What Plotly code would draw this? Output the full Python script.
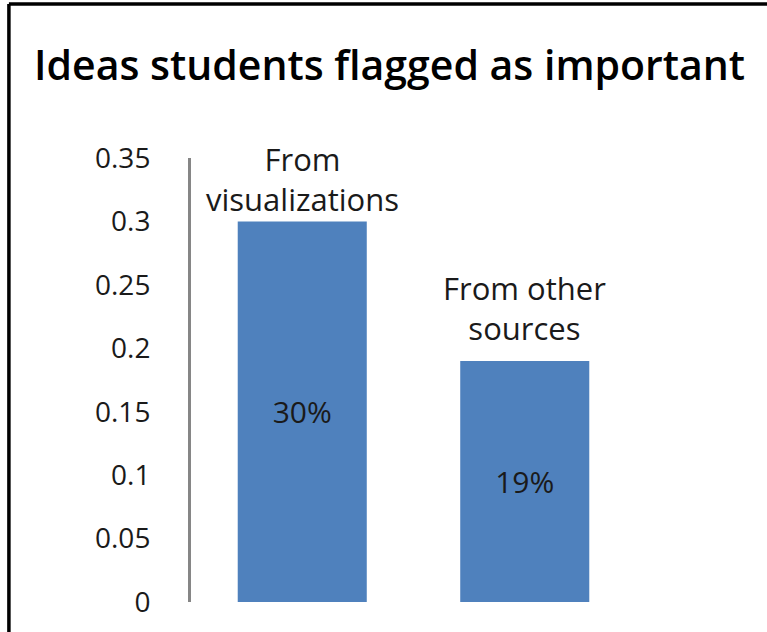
import plotly.graph_objects as go

# Share of ideas students flagged as important, by source
categories = ["From<br>visualizations", "From other<br>sources"]
shares = [0.30, 0.19]
share_labels = ["30%", "19%"]
y_ticks = [0, 0.05, 0.1, 0.15, 0.2, 0.25, 0.3, 0.35]
y_tick_labels = ["0", "0.05", "0.1", "0.15", "0.2", "0.25", "0.3", "0.35"]
title_text = "Ideas students flagged as important"

W, H = 767, 632
L, R, T, B = 190.5, 130.5, 158, 30
plot_w = W - L - R
plot_h = H - T - B

FONT = "Open Sans"
BAR_COLOR = "#4F81BD"
LABEL_LIFT = [-1, 10]  # vertical nudge (px) of each category label above its bar

x_pos = list(range(len(categories)))

fig = go.Figure()
fig.add_trace(go.Bar(
    x=x_pos,
    y=shares,
    width=0.58,
    marker=dict(color=BAR_COLOR, line=dict(width=0)),
    text=share_labels,
    textposition="inside",
    insidetextanchor="middle",
    textfont=dict(family=FONT, size=30, color="#1a1a1a"),
    hoverinfo="skip",
))

# Category names sit just above each bar
for xi, (cat, val) in enumerate(zip(categories, shares)):
    fig.add_annotation(
        x=xi, y=val, xref="x", yref="y",
        text=cat, showarrow=False,
        yanchor="bottom", xanchor="center", yshift=LABEL_LIFT[xi],
        font=dict(family=FONT, size=31, color="#1a1a1a"),
    )

# Title
fig.add_annotation(
    x=(389 - L) / plot_w, y=(H - B - 64) / plot_h,
    xref="paper", yref="paper",
    text=title_text, showarrow=False,
    xanchor="center", yanchor="middle",
    font=dict(family=FONT, size=41, color="#000000", weight=600),
)

# Frame along the top and left edges
def px_x(px):
    return (px - L) / plot_w

def px_y(py):
    return (H - B - py) / plot_h

fig.add_shape(type="line", xref="paper", yref="paper",
              x0=px_x(8), x1=px_x(W + 5), y0=px_y(4), y1=px_y(4),
              line=dict(color="#000000", width=3.5))
fig.add_shape(type="line", xref="paper", yref="paper",
              x0=px_x(8), x1=px_x(8), y0=px_y(4), y1=px_y(H + 5),
              line=dict(color="#000000", width=3.5))

fig.update_layout(
    width=W, height=H,
    margin=dict(l=L, r=R, t=T, b=B, pad=0),
    paper_bgcolor="white", plot_bgcolor="white",
    showlegend=False,
    xaxis=dict(range=[-0.5, 1.5], showticklabels=False, showgrid=False,
               zeroline=False, showline=False, ticks=""),
    yaxis=dict(range=[0, 0.35], tickvals=y_ticks, ticktext=y_tick_labels,
               showgrid=False, zeroline=False, showline=True,
               linecolor="#868686", linewidth=3, ticks="",
               ticklabelstandoff=32,
               tickfont=dict(family=FONT, size=28, color="#1a1a1a")),
)

fig.write_html("out.html")
